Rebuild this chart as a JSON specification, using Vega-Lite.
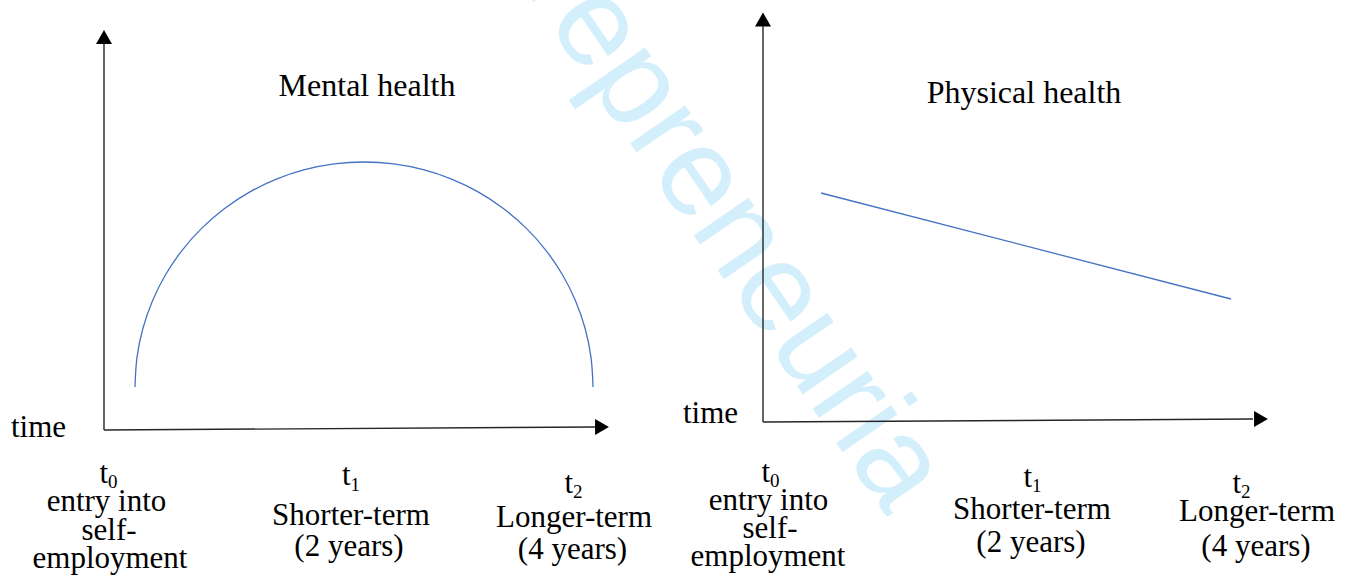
{
  "$schema": "https://vega.github.io/schema/vega-lite/v6.json",
  "width": 1355,
  "height": 577,
  "padding": 0,
  "autosize": {"type": "none"},
  "background": "white",
  "config": {"view": {"stroke": null}},
  "datasets": {
    "watermark": [{"x": 415, "y": -170, "text": "Entrepreneuria"}],
    "axes": [
      {"x": 104, "y": 430, "x2": 104, "y2": 44},
      {"x": 104, "y": 430, "x2": 596, "y2": 427},
      {"x": 763, "y": 422, "x2": 763, "y2": 26},
      {"x": 763, "y": 422, "x2": 1253, "y2": 419}
    ],
    "heads": [
      {"x": 104, "y": 37, "dir": "up"},
      {"x": 602, "y": 427, "dir": "right"},
      {"x": 763, "y": 19.5, "dir": "up"},
      {"x": 1261, "y": 419, "dir": "right"}
    ],
    "curves": [
      {"series": "Mental health", "x": 135, "y": 387},
      {"series": "Mental health", "x": 136.96, "y": 357.63},
      {"series": "Mental health", "x": 142.8, "y": 328.77},
      {"series": "Mental health", "x": 152.43, "y": 300.9},
      {"series": "Mental health", "x": 165.68, "y": 274.5},
      {"series": "Mental health", "x": 182.32, "y": 250.03},
      {"series": "Mental health", "x": 202.07, "y": 227.9},
      {"series": "Mental health", "x": 224.59, "y": 208.5},
      {"series": "Mental health", "x": 249.5, "y": 192.14},
      {"series": "Mental health", "x": 276.37, "y": 179.13},
      {"series": "Mental health", "x": 304.73, "y": 169.67},
      {"series": "Mental health", "x": 334.11, "y": 163.93},
      {"series": "Mental health", "x": 364, "y": 162},
      {"series": "Mental health", "x": 393.89, "y": 163.93},
      {"series": "Mental health", "x": 423.27, "y": 169.67},
      {"series": "Mental health", "x": 451.63, "y": 179.13},
      {"series": "Mental health", "x": 478.5, "y": 192.14},
      {"series": "Mental health", "x": 503.41, "y": 208.5},
      {"series": "Mental health", "x": 525.93, "y": 227.9},
      {"series": "Mental health", "x": 545.68, "y": 250.03},
      {"series": "Mental health", "x": 562.32, "y": 274.5},
      {"series": "Mental health", "x": 575.57, "y": 300.9},
      {"series": "Mental health", "x": 585.2, "y": 328.77},
      {"series": "Mental health", "x": 591.04, "y": 357.63},
      {"series": "Mental health", "x": 593, "y": 387},
      {"series": "Physical health", "x": 821, "y": 193},
      {"series": "Physical health", "x": 1231, "y": 299}
    ],
    "titles": [
      {"x": 367, "y": 96, "text": "Mental health"},
      {"x": 1024, "y": 103, "text": "Physical health"}
    ],
    "timeLabels": [
      {"x": 11, "y": 437, "text": "time"},
      {"x": 683, "y": 423, "text": "time"}
    ],
    "tLetters": [
      {"x": 108, "y": 483, "text": "t"},
      {"x": 350.5, "y": 485, "text": "t"},
      {"x": 573, "y": 493, "text": "t"},
      {"x": 770, "y": 482, "text": "t"},
      {"x": 1032, "y": 487, "text": "t"},
      {"x": 1241, "y": 493, "text": "t"}
    ],
    "tSubs": [
      {"x": 108, "y": 488, "text": "0"},
      {"x": 350.5, "y": 491, "text": "1"},
      {"x": 573, "y": 498, "text": "2"},
      {"x": 770, "y": 487, "text": "0"},
      {"x": 1032, "y": 492, "text": "1"},
      {"x": 1241, "y": 498, "text": "2"}
    ],
    "labels": [
      {"x": 106.5, "y": 511, "text": "entry into"},
      {"x": 109, "y": 540, "text": "self-"},
      {"x": 110, "y": 568, "text": "employment"},
      {"x": 351, "y": 525, "text": "Shorter-term"},
      {"x": 349, "y": 556, "text": "(2 years)"},
      {"x": 574, "y": 527, "text": "Longer-term"},
      {"x": 572.5, "y": 559, "text": "(4 years)"},
      {"x": 768.5, "y": 510, "text": "entry into"},
      {"x": 770, "y": 538, "text": "self-"},
      {"x": 768, "y": 566, "text": "employment"},
      {"x": 1032, "y": 519, "text": "Shorter-term"},
      {"x": 1031, "y": 552, "text": "(2 years)"},
      {"x": 1257, "y": 521, "text": "Longer-term"},
      {"x": 1256, "y": 556, "text": "(4 years)"}
    ]
  },
  "encoding": {
    "x": {"field": "x", "type": "quantitative", "scale": {"domain": [0, 1355], "nice": false, "zero": false}, "axis": null},
    "y": {"field": "y", "type": "quantitative", "scale": {"domain": [0, 577], "reverse": true, "nice": false, "zero": false}, "axis": null}
  },
  "layer": [
    {
      "data": {"name": "watermark"},
      "mark": {"type": "text", "clip": true, "angle": 55.5, "align": "left", "baseline": "alphabetic", "font": "Liberation Sans", "fontSize": 126, "color": "#d4effc"},
      "encoding": {"text": {"field": "text"}}
    },
    {
      "data": {"name": "axes"},
      "mark": {"type": "rule", "color": "#262626", "strokeWidth": 1.4},
      "encoding": {"x2": {"field": "x2"}, "y2": {"field": "y2"}}
    },
    {
      "data": {"name": "heads"},
      "mark": {"type": "point", "filled": true, "color": "#000000", "size": 256, "opacity": 1, "strokeWidth": 0},
      "encoding": {
        "shape": {"field": "dir", "type": "nominal", "scale": {"domain": ["up", "right"], "range": ["triangle-up", "triangle-right"]}, "legend": null}
      }
    },
    {
      "data": {"name": "curves"},
      "mark": {"type": "line", "color": "#4472c4", "strokeWidth": 1.3, "interpolate": "catmull-rom"},
      "encoding": {"detail": {"field": "series"}}
    },
    {
      "data": {"name": "titles"},
      "mark": {"type": "text", "align": "center", "baseline": "alphabetic", "font": "Liberation Serif", "fontSize": 32, "color": "#000000"},
      "encoding": {"text": {"field": "text"}}
    },
    {
      "data": {"name": "timeLabels"},
      "mark": {"type": "text", "align": "left", "baseline": "alphabetic", "font": "Liberation Serif", "fontSize": 31, "color": "#000000"},
      "encoding": {"text": {"field": "text"}}
    },
    {
      "data": {"name": "tLetters"},
      "mark": {"type": "text", "align": "right", "baseline": "alphabetic", "font": "Liberation Serif", "fontSize": 31, "color": "#000000"},
      "encoding": {"text": {"field": "text"}}
    },
    {
      "data": {"name": "tSubs"},
      "mark": {"type": "text", "align": "left", "baseline": "alphabetic", "font": "Liberation Serif", "fontSize": 19, "color": "#000000"},
      "encoding": {"text": {"field": "text"}}
    },
    {
      "data": {"name": "labels"},
      "mark": {"type": "text", "align": "center", "baseline": "alphabetic", "font": "Liberation Serif", "fontSize": 31, "color": "#000000"},
      "encoding": {"text": {"field": "text"}}
    }
  ]
}
